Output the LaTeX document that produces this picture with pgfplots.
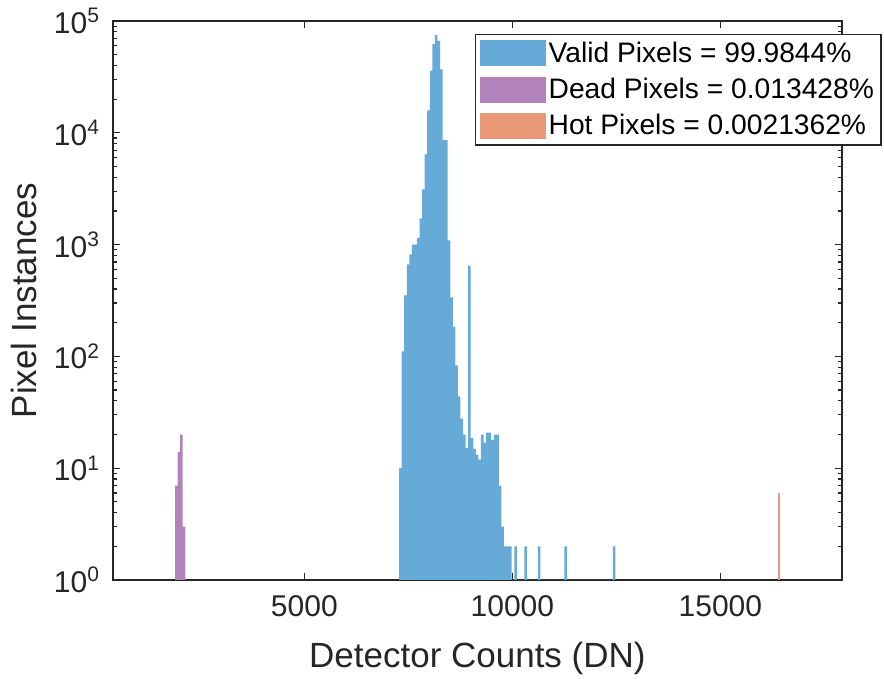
\documentclass[border=0pt]{standalone}
\usepackage{fontspec}
\setmainfont{Liberation Sans}
\usepackage{pgfplots}
\pgfplotsset{compat=1.18}
\definecolor{validc}{RGB}{102,170,215}
\definecolor{deadc}{RGB}{178,130,187}
\definecolor{hotc}{RGB}{232,152,117}
\definecolor{axgray}{RGB}{38,38,38}
\pgfplotsset{myleg/.style={legend image code/.code={\fill[##1] (0pt,-6.5pt) rectangle (33pt,6.5pt);}}}
\begin{document}
\begin{tikzpicture}
\begin{axis}[
  scale only axis,
  width=364.4pt, height=279.5pt,
  xmin=401, xmax=17918,
  ymode=log, ymin=1, ymax=100000,
  scaled x ticks=false,
  xtick={5000,10000,15000},
  xticklabels={5000,10000,15000},
  ytick={1,10,100,1000,10000,100000},
  yticklabels={10\textsuperscript{0},10\textsuperscript{1},10\textsuperscript{2},10\textsuperscript{3},10\textsuperscript{4},10\textsuperscript{5}},
  minor ytick={2,3,4,5,6,7,8,9,20,30,40,50,60,70,80,90,200,300,400,500,600,700,800,900,2000,3000,4000,5000,6000,7000,8000,9000,20000,30000,40000,50000,60000,70000,80000,90000},
  tick align=inside,
  major tick length=3.6pt,
  minor tick length=2pt,
  tick style={axgray, line width=0.6pt},
  axis line style={draw=axgray, line width=0.7pt},
  tick label style={font=\fontsize{15}{18}\selectfont, text=axgray},
  xticklabel style={yshift=-4pt},
  yticklabel style={xshift=-3pt},
  label style={font=\fontsize{17.5}{21}\selectfont, text=axgray},
  xlabel={Detector Counts (DN)},
  ylabel={Pixel Instances},
  xlabel style={at={(axis description cs:0.5,-0.1574)}, anchor=base},
  ylabel style={at={(axis description cs:-0.1221,0.5)}, anchor=center},
  legend cell align=left,
  legend style={at={(0.4968,0.9767)}, anchor=north west,
    font=\fontsize{14.1}{17}\selectfont, text=black,
    draw=axgray, line width=0.6pt, fill=white,
    inner xsep=2pt, inner ysep=2pt, row sep=3.5pt,
    nodes={inner sep=1.5pt}},
]
\addplot[ybar interval, fill=validc, draw=none, myleg] coordinates {
(7277,10) (7338.5,111) (7400,351) (7461.5,664) (7523,817) (7584.5,1000)
(7646,1000) (7707.5,1150) (7769,1718) (7830.5,3125) (7892,6420)
(7953.5,15900) (8015,35900) (8076.5,62000) (8138,75000) (8199.5,66500)
(8261,37000) (8322.5,8600) (8384,8600) (8445.5,1090) (8507,337)
(8568.5,185) (8630,83) (8691.5,44) (8753,27.7) (8814.5,20) (8876,15.2)
(8937.5,650) (8999,18.7) (9060.5,14.9) (9122,13.2) (9183.5,11.9)
(9245,20) (9306.5,16.9) (9368,20.8) (9429.5,20.8) (9491,17.9)
(9552.5,20) (9614,20) (9675.5,7) (9737,3) (9798.5,2) (9860,2)
(9921.5,2) (9983,1) (10048,2) (10109.5,1) (10289,2) (10350.5,1)
(10611,2) (10672.5,1) (11250,2) (11311.5,1) (12414,2) (12475.5,1)
};
\addlegendentry{Valid Pixels = 99.9844\%}
\addplot[ybar interval, fill=deadc, draw=none, myleg] coordinates {
(1892,7) (1953.5,14) (2015,20) (2076.5,3) (2138,1)
};
\addlegendentry{Dead Pixels = 0.013428\%}
\addplot[ybar interval, fill=hotc, draw=none, myleg] coordinates {
(16381,6) (16442.5,1)
};
\addlegendentry{Hot Pixels = 0.0021362\%}
\end{axis}
\pgfresetboundingbox
\path[use as bounding box] (-56.5pt,-49.5pt) rectangle (385.5pt,290pt);
\end{tikzpicture}
\end{document}
